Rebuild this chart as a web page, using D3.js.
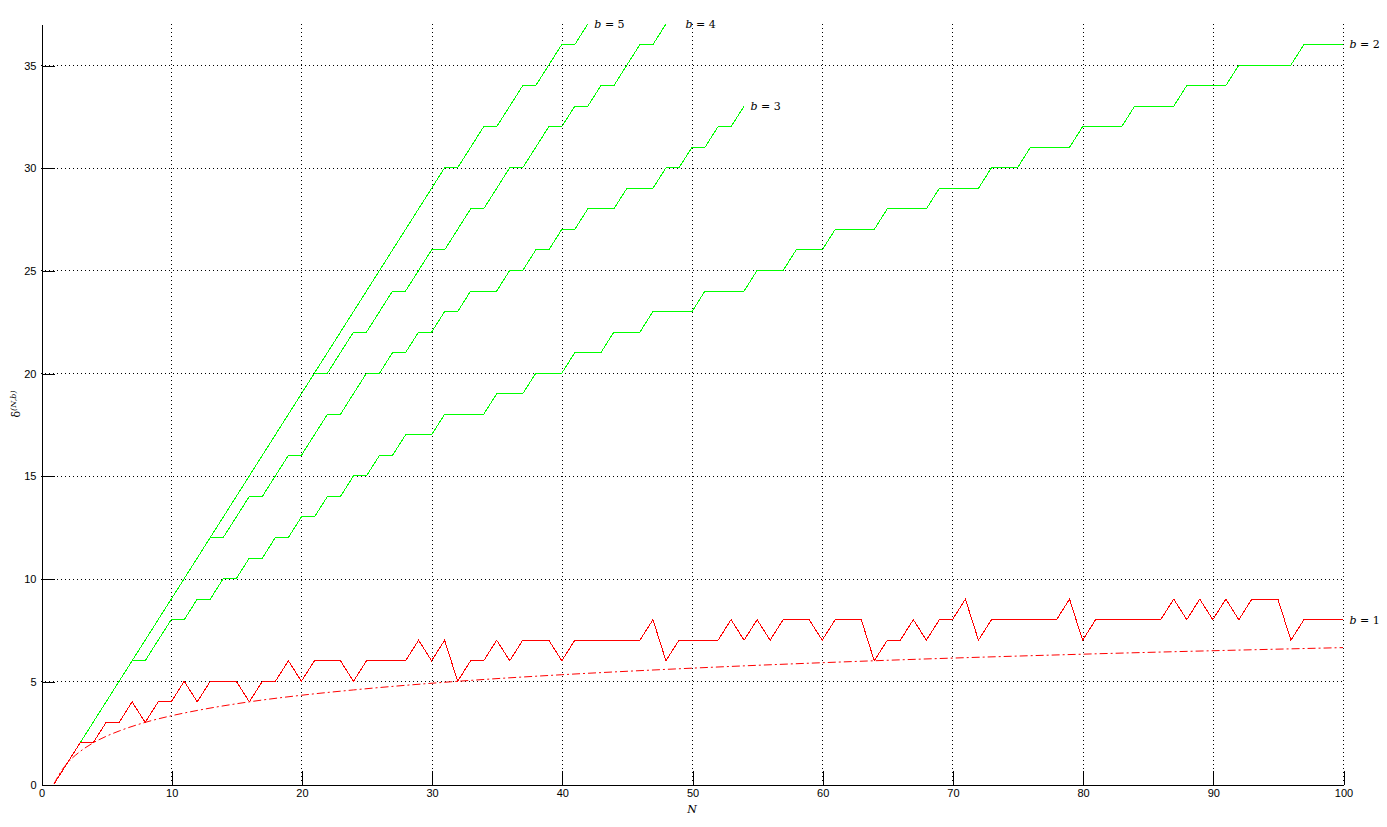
<!DOCTYPE html>
<html>
<head>
<meta charset="utf-8">
<script src="https://cdn.jsdelivr.net/npm/d3@7"></script>
<style>
    body { margin: 0; background: #fff; }
    .axis text { font-family: 'Liberation Sans', sans-serif; font-size: 11px; fill: #000; }
    .axis path, .axis line { stroke: #000; shape-rendering: crispEdges; }
    .grid line { stroke: #000; stroke-dasharray: 1,3; shape-rendering: crispEdges; }
    .series { fill: none; stroke-width: 1; shape-rendering: crispEdges; }
    .label { font-family: 'DejaVu Serif', serif; font-size: 11px; }
</style>
</head>
<body>
<div id="chart"></div>
<script>
/*
 *  Data: value at N = 1, 2, 3, ...
 */
const seriesB1 = [0, 1, 2, 2, 3, 3, 4, 3, 4, 4,
    5, 4, 5, 5, 5, 4, 5, 5, 6, 5,
    6, 6, 6, 5, 6, 6, 6, 6, 7, 6,
    7, 5, 6, 6, 7, 6, 7, 7, 7, 6,
    7, 7, 7, 7, 7, 7, 8, 6, 7, 7,
    7, 7, 8, 7, 8, 7, 8, 8, 8, 7,
    8, 8, 8, 6, 7, 7, 8, 7, 8, 8,
    9, 7, 8, 8, 8, 8, 8, 8, 9, 7,
    8, 8, 8, 8, 8, 8, 9, 8, 9, 8,
    9, 8, 9, 9, 9, 7, 8, 8, 8, 8];

const seriesB2 = [0, 1, 2, 3, 4, 5, 6, 6, 7, 8,
    8, 9, 9, 10, 10, 11, 11, 12, 12, 13,
    13, 14, 14, 15, 15, 16, 16, 17, 17, 17,
    18, 18, 18, 18, 19, 19, 19, 20, 20, 20,
    21, 21, 21, 22, 22, 22, 23, 23, 23, 23,
    24, 24, 24, 24, 25, 25, 25, 26, 26, 26,
    27, 27, 27, 27, 28, 28, 28, 28, 29, 29,
    29, 29, 30, 30, 30, 31, 31, 31, 31, 32,
    32, 32, 32, 33, 33, 33, 33, 34, 34, 34,
    34, 35, 35, 35, 35, 35, 36, 36, 36, 36];

const seriesB3 = [0, 1, 2, 3, 4, 5, 6, 7, 8, 9,
    10, 11, 12, 12, 13, 14, 14, 15, 16, 16,
    17, 18, 18, 19, 20, 20, 21, 21, 22, 22,
    23, 23, 24, 24, 24, 25, 25, 26, 26, 27,
    27, 28, 28, 28, 29, 29, 29, 30, 30, 31,
    31, 32, 32, 33];

const seriesB4 = [0, 1, 2, 3, 4, 5, 6, 7, 8, 9,
    10, 11, 12, 13, 14, 15, 16, 17, 18, 19,
    20, 20, 21, 22, 22, 23, 24, 24, 25, 26,
    26, 27, 28, 28, 29, 30, 30, 31, 32, 32,
    33, 33, 34, 34, 35, 36, 36, 37];

const seriesB5 = [0, 1, 2, 3, 4, 5, 6, 7, 8, 9,
    10, 11, 12, 13, 14, 15, 16, 17, 18, 19,
    20, 21, 22, 23, 24, 25, 26, 27, 28, 29,
    30, 30, 31, 32, 32, 33, 34, 34, 35, 36,
    36, 37];

const refN = [1, 1.5, 2, 3, 4, 5, 6, 8, 10, 12, 16, 20, 24, 32, 40, 48, 64, 80, 100];
const refValues = [0, 0.58, 1, 1.58, 2, 2.32, 2.58, 3, 3.32, 3.58, 4, 4.32, 4.58, 5, 5.32, 5.58, 6, 6.32, 6.64];

// Curve labels and where they sit (data units)
const labelB = ['1', '2', '3', '4', '5'];
const labelN = [100.5, 100.5, 54.5, 49.5, 42.5];
const labelValue = [8, 36, 33, 37, 37];

const xTicks = [0, 10, 20, 30, 40, 50, 60, 70, 80, 90, 100];
const yTicks = [0, 5, 10, 15, 20, 25, 30, 35];

showChart();

/*
 *  Draw chart
 */
function showChart() {
    const width = 1387;
    const height = 827;

    const svg = d3.select('#chart').append('svg')
        .attr('width', width)
        .attr('height', height)
        .style('display', 'block');

    const xScale = d3.scaleLinear()
        .domain([0, 100])
        .range([41, 1343]);

    const yScale = d3.scaleLinear()
        .domain([0, 37])
        .range([784, 24]);

    // Dotted grid
    const grid = svg.append('g').attr('class', 'grid');

    grid.selectAll('.vgrid')
        .data(xTicks.filter(d => d > 0))
        .enter()
        .append('line')
        .attr('x1', d => Math.round(xScale(d)) + 0.5)
        .attr('x2', d => Math.round(xScale(d)) + 0.5)
        .attr('y1', yScale(37))
        .attr('y2', yScale(0));

    grid.selectAll('.hgrid')
        .data(yTicks.filter(d => d > 0))
        .enter()
        .append('line')
        .attr('x1', xScale(0))
        .attr('x2', xScale(100))
        .attr('y1', d => Math.round(yScale(d)) + 0.5)
        .attr('y2', d => Math.round(yScale(d)) + 0.5);

    // Axes with inward ticks
    const xAxis = d3.axisBottom(xScale)
        .tickValues(xTicks)
        .tickSizeInner(-14)
        .tickSizeOuter(0)
        .tickPadding(5);

    const yAxis = d3.axisLeft(yScale)
        .tickValues(yTicks)
        .tickSizeInner(-13)
        .tickSizeOuter(0)
        .tickPadding(5);

    svg.append('g')
        .attr('class', 'axis x-axis')
        .attr('transform', `translate(0.5,${yScale(0) + 0.5})`)
        .call(xAxis)
        .attr('font-family', null)
        .attr('font-size', null);

    svg.append('g')
        .attr('class', 'axis y-axis')
        .attr('transform', `translate(${xScale(0) + 0.5},0.5)`)
        .call(yAxis)
        .attr('font-family', null)
        .attr('font-size', null);

    // Axis titles
    svg.append('text')
        .attr('x', xScale(50))
        .attr('y', 813)
        .attr('text-anchor', 'middle')
        .style('font-family', 'DejaVu Serif, serif')
        .style('font-style', 'italic')
        .style('font-size', '11px')
        .text('N');

    const yTitle = svg.append('text')
        .attr('transform', `translate(20,${yScale(18.5)}) rotate(-90)`)
        .attr('text-anchor', 'middle')
        .style('font-family', 'DejaVu Serif, serif')
        .style('font-size', '11px');
    yTitle.append('tspan').text('δ');
    yTitle.append('tspan')
        .attr('dy', '-0.45em')
        .style('font-size', '8px')
        .style('font-style', 'italic')
        .text('(N,b)');

    // Lines
    const line = d3.line()
        .x((d, i) => xScale(i + 1))
        .y(d => yScale(d));

    const greens = [seriesB2, seriesB3, seriesB4, seriesB5];

    svg.selectAll('.green')
        .data(greens)
        .enter()
        .append('path')
        .attr('class', 'series')
        .attr('stroke', '#00ff00')
        .attr('d', line);

    svg.append('path')
        .attr('class', 'series')
        .attr('stroke', '#ff0000')
        .attr('d', line(seriesB1));

    const refLine = d3.line()
        .x(d => xScale(d[0]))
        .y(d => yScale(d[1]))
        .curve(d3.curveMonotoneX);

    svg.append('path')
        .attr('fill', 'none')
        .attr('stroke', '#ff0000')
        .attr('stroke-width', 1)
        .attr('stroke-dasharray', '8,3,2,3')
        .attr('d', refLine(d3.zip(refN, refValues)));

    // Curve labels
    const labels = svg.selectAll('.label')
        .data(labelB)
        .enter()
        .append('text')
        .attr('class', 'label')
        .attr('x', (d, i) => xScale(labelN[i]))
        .attr('y', (d, i) => yScale(labelValue[i]))
        .attr('dy', '0.35em');

    labels.append('tspan')
        .style('font-style', 'italic')
        .text('b');
    labels.append('tspan')
        .text(d => ' = ' + d);
}
</script>
</body>
</html>
